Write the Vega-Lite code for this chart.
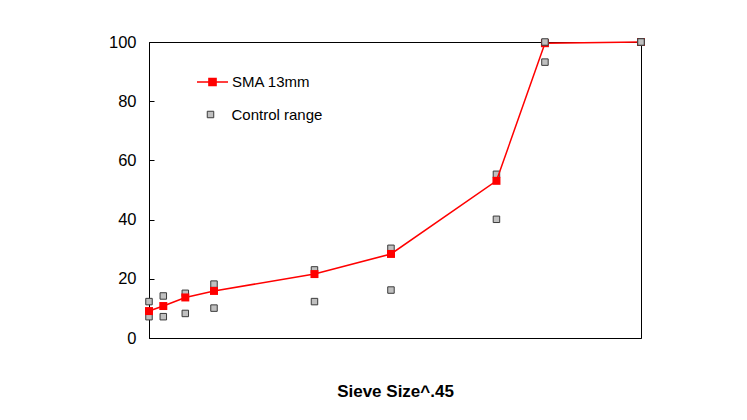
{
  "$schema": "https://vega.github.io/schema/vega-lite/v6.json",
  "width": 492,
  "height": 296,
  "autosize": {"type": "none"},
  "padding": {"left": 149, "top": 42, "right": 106, "bottom": 82},
  "background": "white",
  "config": {
    "view": {"stroke": "black", "strokeWidth": 1},
    "font": "Liberation Sans"
  },
  "datasets": {
    "sma": [
      {"sieve": 0.075, "x": 0.31175, "y": 9.1, "series": "SMA 13mm"},
      {"sieve": 0.15, "x": 0.412, "y": 10.8, "series": "SMA 13mm"},
      {"sieve": 0.3, "x": 0.5663, "y": 13.7, "series": "SMA 13mm"},
      {"sieve": 0.6, "x": 0.7676, "y": 15.9, "series": "SMA 13mm"},
      {"sieve": 2.36, "x": 1.4723, "y": 21.6, "series": "SMA 13mm"},
      {"sieve": 4.75, "x": 2.0088, "y": 28.4, "series": "SMA 13mm"},
      {"sieve": 9.5, "x": 2.7486, "y": 53.1, "series": "SMA 13mm"},
      {"sieve": 13.2, "x": 3.0887, "y": 99.6, "series": "SMA 13mm"},
      {"sieve": 19, "x": 3.76232, "y": 100, "series": "SMA 13mm"}
    ],
    "ctrl": [
      {"sieve": 0.075, "x": 0.31175, "y": 12.3, "series": "Control range"},
      {"sieve": 0.075, "x": 0.31175, "y": 7.2, "series": "Control range"},
      {"sieve": 0.15, "x": 0.412, "y": 14.2, "series": "Control range"},
      {"sieve": 0.15, "x": 0.412, "y": 7.2, "series": "Control range"},
      {"sieve": 0.3, "x": 0.5663, "y": 15.1, "series": "Control range"},
      {"sieve": 0.3, "x": 0.5663, "y": 8.3, "series": "Control range"},
      {"sieve": 0.6, "x": 0.7676, "y": 18.2, "series": "Control range"},
      {"sieve": 0.6, "x": 0.7676, "y": 10.1, "series": "Control range"},
      {"sieve": 2.36, "x": 1.4723, "y": 23.0, "series": "Control range"},
      {"sieve": 2.36, "x": 1.4723, "y": 12.3, "series": "Control range"},
      {"sieve": 4.75, "x": 2.0088, "y": 30.3, "series": "Control range"},
      {"sieve": 4.75, "x": 2.0088, "y": 16.2, "series": "Control range"},
      {"sieve": 9.5, "x": 2.7486, "y": 55.3, "series": "Control range"},
      {"sieve": 9.5, "x": 2.7486, "y": 40.1, "series": "Control range"},
      {"sieve": 13.2, "x": 3.0887, "y": 93.2, "series": "Control range"}
    ],
    "ctrlTop": [
      {"sieve": 13.2, "x": 3.0887, "y": 100, "series": "Control range"},
      {"sieve": 19, "x": 3.76232, "y": 100, "series": "Control range"},
      {"sieve": 19, "x": 3.76232, "y": 100, "series": "Control range"}
    ]
  },
  "encoding": {
    "x": {
      "field": "x",
      "type": "quantitative",
      "scale": {"domain": [0.31175, 3.76232], "nice": false, "zero": false},
      "axis": {
        "labels": false,
        "ticks": false,
        "grid": false,
        "title": "Sieve Size^.45",
        "titleFont": "Liberation Sans",
        "titleFontSize": 17,
        "titleFontWeight": "bold",
        "titleColor": "black",
        "titlePadding": 45,
        "domainColor": "black"
      }
    },
    "y": {
      "field": "y",
      "type": "quantitative",
      "scale": {"domain": [0, 100], "nice": false},
      "axis": {
        "values": [0, 20, 40, 60, 80, 100],
        "title": null,
        "grid": false,
        "tickSize": -5,
        "tickColor": "black",
        "labelPadding": 18,
        "labelFont": "Liberation Sans",
        "labelFontSize": 16.5,
        "labelColor": "black",
        "domainColor": "black"
      }
    }
  },
  "layer": [
    {
      "data": {"name": "ctrl"},
      "mark": {"type": "point", "shape": "square", "filled": true, "stroke": "#3a3a3a", "strokeWidth": 1, "size": 42, "opacity": 1},
      "encoding": {
        "fill": {
          "field": "series",
          "type": "nominal",
          "scale": {"domain": ["Control range"], "range": ["#c0c0c0"]},
          "legend": {
            "title": null,
            "orient": "none",
            "legendX": 54,
            "legendY": 65,
            "padding": 0,
            "symbolType": "square",
            "symbolSize": 42,
            "symbolStrokeColor": "#3a3a3a",
            "symbolStrokeWidth": 1,
            "labelOffset": 13.5,
            "labelFont": "Liberation Sans",
            "labelFontSize": 15,
            "labelColor": "black"
          }
        }
      }
    },
    {
      "data": {"name": "sma"},
      "mark": {"type": "line", "strokeWidth": 1.5},
      "encoding": {
        "stroke": {
          "field": "series",
          "type": "nominal",
          "scale": {"domain": ["SMA 13mm"], "range": ["#ff0000"]},
          "legend": {
            "title": null,
            "orient": "none",
            "legendX": 47,
            "legendY": 23.5,
            "padding": 0,
            "symbolType": "M-1,0H1M-0.23,-0.23H0.23V0.23H-0.23Z",
            "symbolSize": 961,
            "symbolStrokeWidth": 1.5,
            "symbolFillColor": "#ff0000",
            "labelOffset": 3,
            "labelFont": "Liberation Sans",
            "labelFontSize": 15,
            "labelColor": "black",
            "encode": {"symbols": {"update": {"fill": {"value": "#ff0000"}}}}
          }
        }
      }
    },
    {
      "data": {"name": "sma"},
      "mark": {"type": "point", "shape": "square", "filled": true, "color": "#ff0000", "size": 64, "opacity": 1}
    },
    {
      "data": {"name": "ctrlTop"},
      "mark": {"type": "point", "shape": "square", "filled": true, "stroke": "#3a3a3a", "strokeWidth": 1, "size": 42, "opacity": 1},
      "encoding": {
        "fill": {"field": "series", "type": "nominal"}
      }
    }
  ]
}
